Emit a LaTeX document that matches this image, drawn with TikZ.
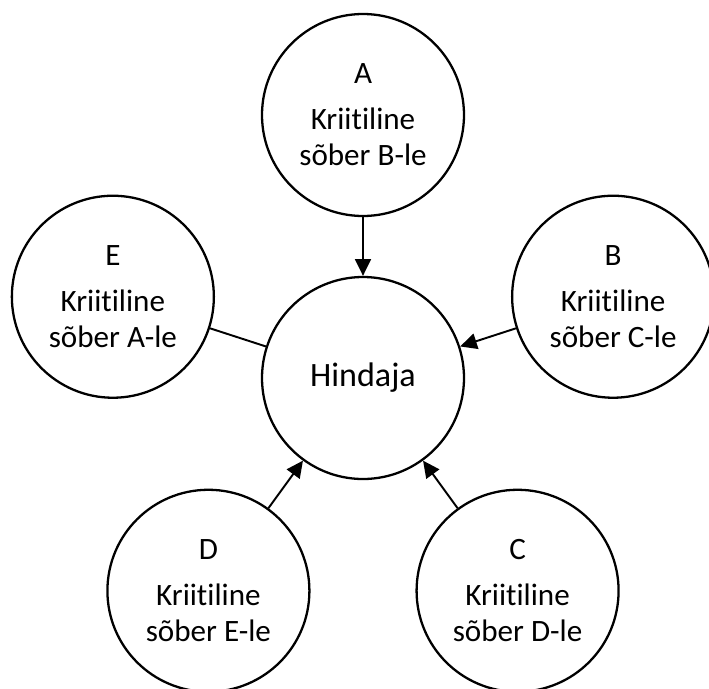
\documentclass[tikz,border=0pt]{standalone}
\usepackage{fontspec}
\setmainfont{Carlito}[Ligatures=NoCommon]
\usetikzlibrary{arrows.meta}

\tikzset{
    friend/.style={draw, circle, line width=1.3pt, minimum size=4.04cm, inner sep=0pt, align=center, font=\fontsize{17.7}{20.5}\selectfont},
    hub/.style={draw, circle, line width=1.3pt, minimum size=4.04cm, inner sep=0pt, font=\fontsize{19.4}{22}\selectfont},
    link/.style={line width=1.1pt, -{Triangle[length=9.5pt, width=9pt]}}
}

\begin{document}
\begin{tikzpicture}
    \useasboundingbox (-7.26,-6.20) rectangle (6.92,7.56);

    \node[hub] (h) at (0, 0) {Hindaja};

    \node[friend] (a) at (90:5.26) {A\\[5.7pt]Kriitiline\\sõber B-le};
    \node[friend] (b) at (18:5.26) {B\\[5.7pt]Kriitiline\\sõber C-le};
    \node[friend] (c) at (-54:5.26) {C\\[5.7pt]Kriitiline\\sõber D-le};
    \node[friend] (d) at (-126:5.26) {D\\[5.7pt]Kriitiline\\sõber E-le};
    \node[friend] (e) at (162:5.26) {E\\[5.7pt]Kriitiline\\sõber A-le};

    \draw[link] (a) -- (h);
    \draw[link] (b) -- (h);
    \draw[link] (c) -- (h);
    \draw[link] (d) -- (h);
    \draw[line width=1.1pt] (e) -- (h);
\end{tikzpicture}
\end{document}
